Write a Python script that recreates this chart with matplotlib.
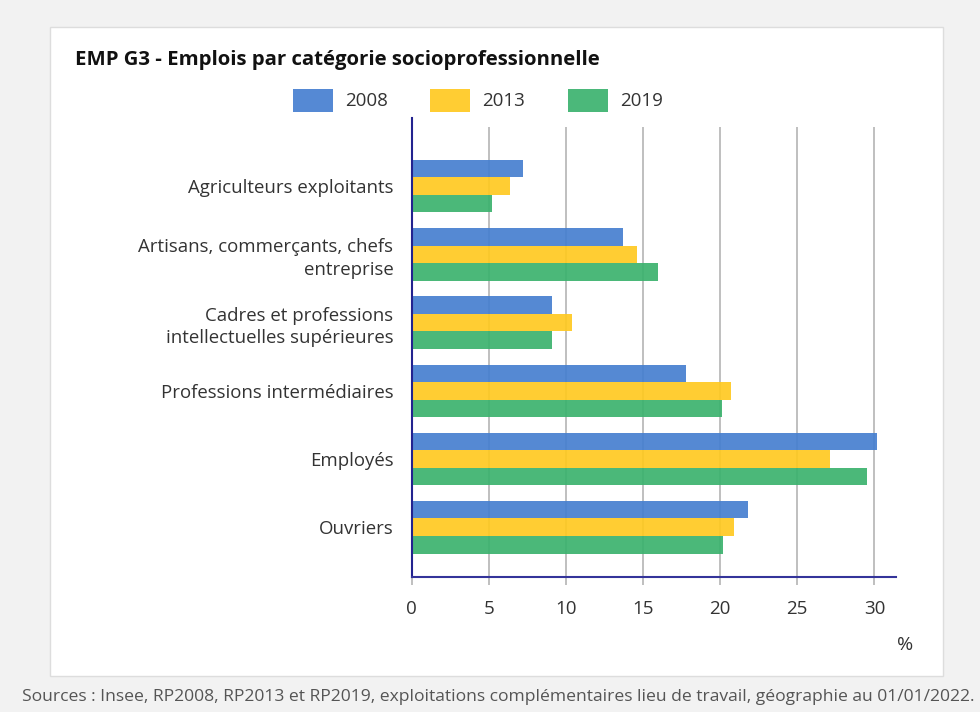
import matplotlib.pyplot as plt
import matplotlib.patches as mpatches
import numpy as np

### data
categories = ['Agriculteurs exploitants',
              'Artisans, commerçants, chefs\nentreprise',
              'Cadres et professions\nintellectuelles supérieures',
              'Professions intermédiaires',
              'Employés',
              'Ouvriers']
years = ['2008', '2013', '2019']
v2008 = [7.2, 13.7, 9.1, 17.8, 30.2, 21.8]
v2013 = [6.4, 14.6, 10.4, 20.7, 27.1, 20.9]
v2019 = [5.2, 16.0, 9.1, 20.1, 29.5, 20.2]
xticks = [0, 5, 10, 15, 20, 25, 30]

### legend colours and (slightly darker) bar colours, bars are a bit transparent
colors = ['#5589d4', '#ffcd33', '#4bb87a']
barcolors = ['#467fd0', '#ffc921', '#3bb26e']

plt.rcParams['font.family'] = ['Open Sans', 'DejaVu Sans']

### figure and background panel
fig = plt.figure(figsize=(9.8, 7.12), dpi=100, facecolor='#f2f2f2')
fig.patches.append(mpatches.Rectangle((50 / 980, 1 - 676 / 712), 893 / 980, 649 / 712,
                                      transform=fig.transFigure, facecolor='white',
                                      edgecolor='#dddddd', linewidth=1, zorder=-5))

ax = fig.add_axes([411.5 / 980, 1 - 577 / 712, 484.5 / 980, 459 / 712])
ax.set_facecolor('none')
ax.set_zorder(2)

### bars
y = np.arange(len(categories))
h = 0.257
for i, vals in enumerate([v2008, v2013, v2019]):
    ax.barh(y + (i - 1) * h, vals, height=h, color=barcolors[i], alpha=0.92,
            edgecolor='none', zorder=2, label=years[i])

### grid lines
ax.set_xlim(0, 31.4)
ax.set_ylim(5.73, -1.0)
ax.vlines(xticks[1:], 5.73, -0.87, color='#b4b4b4', linewidth=1.2, zorder=1)

### axes style
for s in ['top', 'right']:
    ax.spines[s].set_visible(False)
ax.spines['left'].set_color('#23238f')
ax.spines['bottom'].set_color('#34349a')
ax.spines['left'].set_linewidth(1.5)
ax.spines['bottom'].set_linewidth(1.5)
ax.spines['left'].set_zorder(3)
ax.spines['bottom'].set_zorder(3)

ax.set_xticks(xticks)
ax.set_xticklabels([str(t) for t in xticks])
ax.tick_params(axis='x', length=6, width=1.2, color='#b4b4b4', pad=10.5,
               labelsize=13.5, labelcolor='#333333')
ax.set_yticks(y)
ax.set_yticklabels(categories, linespacing=1.3, multialignment='right')
ax.tick_params(axis='y', length=0, pad=13, labelsize=13.4, labelcolor='#333333')

### title, legend, unit, source
fig.text(75 / 980, 1 - 60 / 712, 'EMP G3 - Emplois par catégorie socioprofessionnelle',
         fontsize=14.7, fontweight='bold', color='#111111', va='center', ha='left')

lx = [293, 430, 568]
for i in range(3):
    fig.patches.append(mpatches.Rectangle((lx[i] / 980, 1 - 112 / 712), 40 / 980, 23 / 712,
                                          transform=fig.transFigure, facecolor=colors[i],
                                          edgecolor='none'))
    fig.text((lx[i] + 52) / 980, 1 - 101 / 712, years[i], fontsize=13.5,
             color='#333333', va='center', ha='left')

fig.text(905 / 980, 1 - 645 / 712, '%', fontsize=14, color='#333333',
         va='center', ha='center')

fig.text(22 / 980, 1 - 697 / 712,
         'Sources : Insee, RP2008, RP2013 et RP2019, exploitations complémentaires lieu de travail, géographie au 01/01/2022.',
         fontsize=12.6, color='#555555', va='center', ha='left')

plt.savefig('out.png', dpi=100, facecolor=fig.get_facecolor())
